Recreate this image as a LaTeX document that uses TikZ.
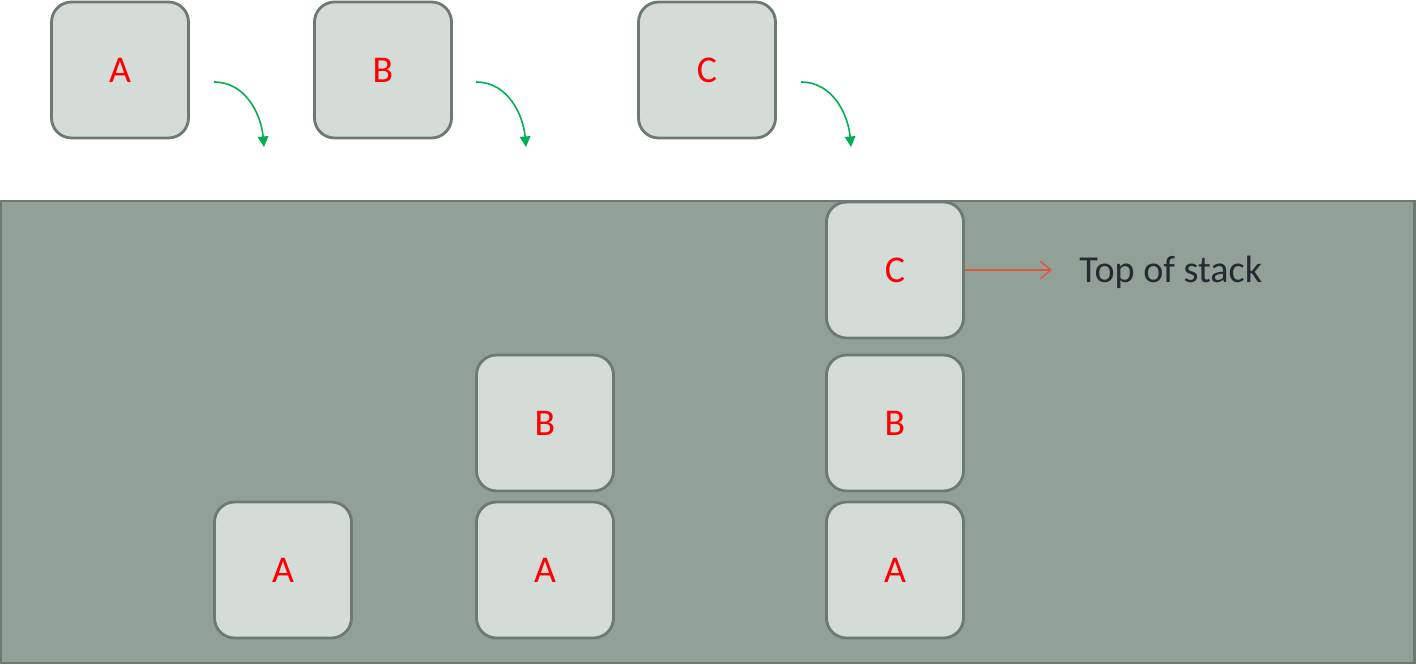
\documentclass[tikz,border=0pt]{standalone}
\usepackage{fontspec}
\setmainfont{Carlito}
\usetikzlibrary{arrows.meta,positioning}

\definecolor{stackbg}{HTML}{92A197}
\definecolor{stackedge}{HTML}{6D7A71}
\definecolor{itemfill}{HTML}{D5DCD8}
\definecolor{pushgreen}{HTML}{00B050}
\definecolor{toparrow}{HTML}{E2563E}
\definecolor{labeltext}{HTML}{262A33}

\tikzset{
  item/.style={draw=stackedge, line width=1.6pt, fill=itemfill, rounded corners=0.4cm,
    minimum width=2.74cm, minimum height=2.72cm, inner sep=0pt,
    text=red, font=\fontsize{21.5}{25}\selectfont},
  push/.style={pushgreen, line width=0.9pt, -{Triangle[length=6pt,width=6pt]}}
}

\begin{document}
\begin{tikzpicture}[x=0.02cm, y=-0.02cm]
  \useasboundingbox (0,0) rectangle (1416,665);

  % stack area
  \draw[fill=stackbg, draw=stackedge, line width=1.7pt] (1,201) rectangle (1414,663);

  % items being pushed
  \node[item] (inA) at (120,70) {A};
  \node[item] (inB) at (383,70) {B};
  \node[item] (inC) at (707,70) {C};

  % push arrows
  \coordinate (pA1) at (214,82);  \coordinate (pA2) at (264,147);
  \coordinate (pB1) at (476,82);  \coordinate (pB2) at (526,147);
  \coordinate (pC1) at (801,82);  \coordinate (pC2) at (851,147);
  \draw[push] (pA1) to[out=0, in=95] (pA2);
  \draw[push] (pB1) to[out=0, in=95] (pB2);
  \draw[push] (pC1) to[out=0, in=95] (pC2);

  % stack after push A
  \node[item] (s1A) at (283,570) {A};

  % stack after push B
  \node[item] (s2A) at (545,570) {A};
  \node[item] (s2B) at (545,423) {B};

  % stack after push C
  \node[item] (s3A) at (895,570) {A};
  \node[item] (s3B) at (895,423) {B};
  \node[item] (s3C) at (895,270) {C};

  % top marker
  \node[anchor=west, text=labeltext, font=\fontsize{21.7}{26}\selectfont, inner sep=0pt]
    (top) at (1079,272) {Top of stack};
  \coordinate (topEnd) at (1052,270);
  \draw[toparrow, line width=0.8pt, -{Straight Barb[length=6pt,width=10pt]}]
    (s3C.east) -- (topEnd);
\end{tikzpicture}
\end{document}
